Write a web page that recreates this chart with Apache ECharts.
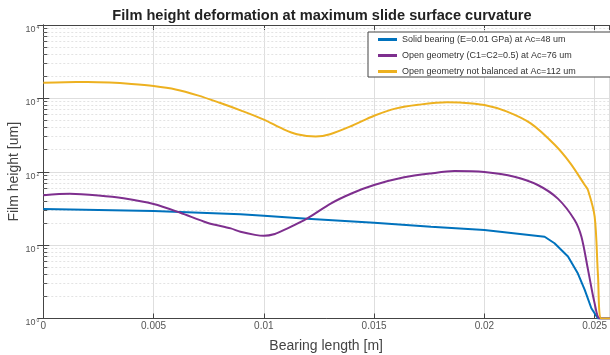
<!DOCTYPE html>
<html>
<head>
<meta charset="utf-8">
<script src="https://cdn.jsdelivr.net/npm/echarts@6/dist/echarts.min.js"></script>
<style>
html,body{margin:0;padding:0;background:#fff;}
#chart{width:610px;height:355px;}
</style>
</head>
<body>
<div id="chart"></div>
<script>
var seriesNames = [
  'Solid bearing (E=0.01 GPa) at Ac=48 um',
  'Open geometry (C1=C2=0.5) at Ac=76 um',
  'Open geometry not balanced at Ac=112 um'
];
var colors = ['#0072BD', '#7E2F8E', '#EDB120'];

var solidX = [0, 0.005, 0.00894, 0.01, 0.01197, 0.015, 0.01758, 0.02, 0.02273, 0.02318, 0.02379, 0.02424, 0.02455, 0.02485, 0.02515, 0.0257];
var solidY = [31, 29.2, 26.3, 25.2, 22.9, 20.2, 17.8, 16.1, 13, 10.6, 7.0, 4.1, 2.46, 1.38, 1, 1];

var openX = [0, 0.0012, 0.0025, 0.00364, 0.005, 0.00621, 0.00743, 0.0085, 0.00894, 0.0096, 0.01, 0.0105, 0.01092, 0.01197, 0.01303, 0.014, 0.015, 0.01636, 0.01758, 0.01864, 0.02, 0.02136, 0.02242, 0.02333, 0.02409, 0.0244, 0.0247, 0.025, 0.02523, 0.0257];
var openY = [48, 50, 47.5, 43.5, 36.3, 27.6, 20.2, 16.9, 15.2, 13.8, 13.4, 14.2, 16.1, 23.2, 36.9, 51, 66, 84, 95, 102, 99, 85.6, 66, 43, 22, 13, 4.6, 1.6, 1, 1];

var unbalX = [0, 0.001, 0.002, 0.003, 0.004, 0.005, 0.006, 0.007, 0.008, 0.009, 0.01, 0.0109, 0.0115, 0.01235, 0.013, 0.014, 0.015, 0.016, 0.017, 0.0183, 0.019, 0.02, 0.021, 0.0221, 0.0232, 0.0239, 0.02455, 0.0247, 0.025, 0.02515, 0.0253, 0.0257];
var unbalY = [1630, 1660, 1670, 1640, 1570, 1472, 1325, 1100, 870, 676, 513, 378, 325, 303, 325, 424, 580, 731, 818, 883, 875, 811, 665, 456, 231, 130, 66, 56, 24.4, 3.9, 1, 1];

var xTicks = [0, 0.005, 0.01, 0.015, 0.02, 0.025];
var yMinorTicks = [2,3,4,5,6,7,8,9,20,30,40,50,60,70,80,90,200,300,400,500,600,700,800,900,2000,3000,4000,5000,6000,7000,8000,9000];

function pairs(xs, ys) { return xs.map(function (x, i) { return [x, ys[i]]; }); }

var XMIN = 0, XMAX = 0.02565;
var minorTickLen = 0.00018;

var markData = [];
yMinorTicks.forEach(function (v) {
  markData.push([{coord: [XMIN, v]}, {coord: [XMAX, v], lineStyle: {color: '#e3e3e3', type: [2, 2], width: 1}}]);
  markData.push([{coord: [XMIN, v]}, {coord: [XMIN + minorTickLen, v], lineStyle: {color: '#555', type: 'solid', width: 1}}]);
});

var font = 'Liberation Sans, Arial, sans-serif';

var chart = echarts.init(document.getElementById('chart'), null, {renderer: 'canvas'});
chart.setOption({
  animation: false,
  title: {
    text: 'Film height deformation at maximum slide surface curvature',
    left: 317, textAlign: 'center', top: 3,
    textStyle: {fontSize: 14.6, fontWeight: 'bold', color: '#222', fontFamily: font}
  },
  legend: {
    data: seriesNames,
    orient: 'vertical',
    left: 368, top: 32,
    padding: [2, 44, 0, 10],
    itemGap: 5,
    itemWidth: 19, itemHeight: 3,
    icon: 'rect',
    borderColor: '#444', borderWidth: 1,
    backgroundColor: '#fff',
    textStyle: {fontSize: 9, color: '#333', fontFamily: font, lineHeight: 11}
  },
  grid: {left: 43.3, right: 1, top: 25, bottom: 36.5, outerBoundsMode: 'none', containLabel: false},
  xAxis: [{
    type: 'value', min: XMIN, max: XMAX, interval: 0.005,
    name: 'Bearing length [m]', nameLocation: 'middle', nameGap: 21, nameMoveOverlap: false,
    nameTextStyle: {fontSize: 14, color: '#444', fontFamily: font},
    axisLine: {show: true, lineStyle: {color: '#444', width: 1}},
    axisTick: {show: true, inside: true, length: 5, lineStyle: {color: '#444'}},
    axisLabel: {
      margin: 3, fontSize: 10, color: '#555', fontFamily: font, showMaxLabel: false,
      formatter: function (v) { return xTicks.indexOf(+v.toFixed(4)) >= 0 ? String(+v.toFixed(4)) : ''; }
    },
    splitLine: {show: true, lineStyle: {color: '#dedede', width: 1}}
  }, {
    type: 'value', position: 'top', min: XMIN, max: XMAX, interval: 0.005,
    axisLine: {show: true, onZero: false, lineStyle: {color: '#444', width: 1}},
    axisTick: {show: true, inside: true, length: 5, lineStyle: {color: '#444'}},
    axisLabel: {show: false},
    splitLine: {show: false}
  }],
  yAxis: [{
    type: 'log', logBase: 10, min: 1, max: 10000,
    name: 'Film height [um]', nameLocation: 'middle', nameGap: 22, nameMoveOverlap: false,
    nameTextStyle: {fontSize: 14, color: '#444', fontFamily: font},
    axisLine: {show: true, lineStyle: {color: '#444', width: 1}},
    axisTick: {show: true, inside: true, length: 6, lineStyle: {color: '#444'}},
    axisLabel: {
      margin: 4, fontSize: 9, color: '#555', fontFamily: font, verticalAlign: 'top',
      formatter: function (v) { return '10{e|' + Math.round(Math.log10(v)) + '}'; },
      rich: {e: {fontSize: 5, color: '#555', verticalAlign: 'top', padding: [0, 0, 0, 1], fontFamily: font}}
    },
    splitLine: {show: true, lineStyle: {color: '#dedede', width: 1}}
  }, {
    type: 'log', logBase: 10, min: 1, max: 10000, position: 'right',
    axisLine: {show: true, lineStyle: {color: '#444', width: 1}},
    axisTick: {show: true, inside: true, length: 6, lineStyle: {color: '#444'}},
    axisLabel: {show: false},
    splitLine: {show: false}
  }],
  series: [{
    name: seriesNames[0], type: 'line', data: pairs(solidX, solidY),
    showSymbol: false, symbol: 'none', smooth: false,
    lineStyle: {color: colors[0], width: 2}, itemStyle: {color: colors[0]},
    z: 3,
    markLine: {
      silent: true, symbol: 'none', z: 1, label: {show: false},
      data: markData
    }
  }, {
    name: seriesNames[1], type: 'line', data: pairs(openX, openY),
    showSymbol: false, symbol: 'none', smooth: 0.3,
    lineStyle: {color: colors[1], width: 2}, itemStyle: {color: colors[1]}, z: 4
  }, {
    name: seriesNames[2], type: 'line', data: pairs(unbalX, unbalY),
    showSymbol: false, symbol: 'none', smooth: 0.3,
    lineStyle: {color: colors[2], width: 2}, itemStyle: {color: colors[2]}, z: 5
  }]
});
</script>
</body>
</html>
